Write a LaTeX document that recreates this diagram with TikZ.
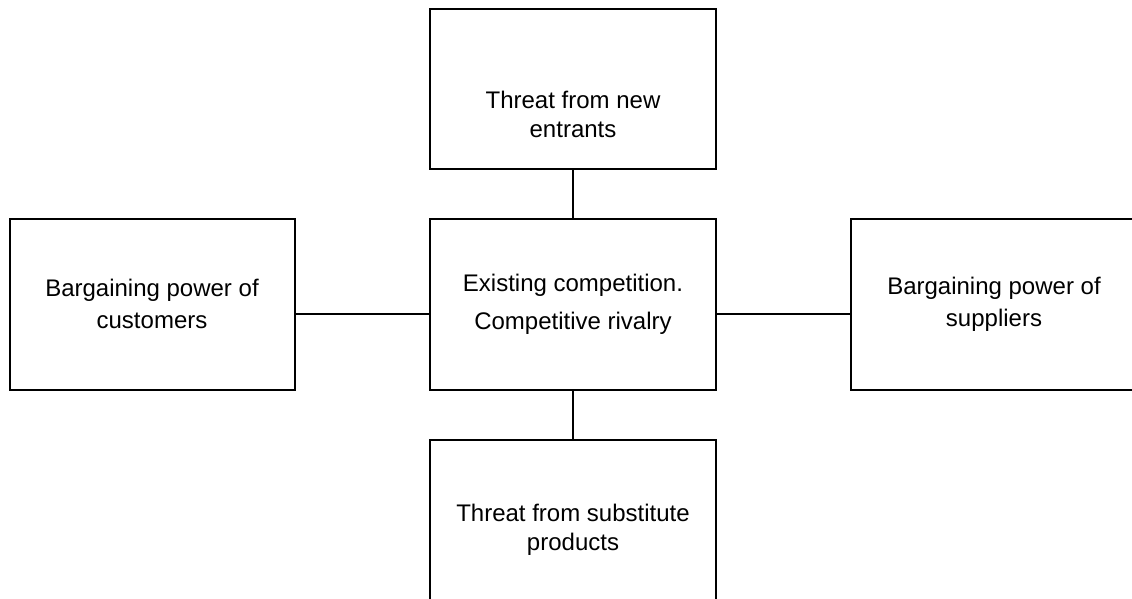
\documentclass[tikz,border=0pt]{standalone}
\usepackage{fontspec}
\setmainfont{Liberation Sans}
\begin{document}
\begin{tikzpicture}[x=1pt,y=-1pt,
  forcebox/.style={draw=black,line width=2pt,inner sep=0pt},
  forcetext/.style={align=center,inner sep=0pt,font=\fontsize{24}{29}\selectfont},
  sidetext/.style={forcetext,font=\fontsize{24}{32}\selectfont},
  link/.style={draw=black,line width=2pt}]
\useasboundingbox (0,0) rectangle (1132,599);
% the five force boxes (right and bottom run past the page edge)
\node[forcebox,minimum width=286pt,minimum height=160pt] (top) at (573,89) {};
\node[forcebox,minimum width=286pt,minimum height=171pt] (centre) at (573,304.5) {};
\node[forcebox,minimum width=285pt,minimum height=171pt] (left) at (152,304.5) {};
\node[forcebox,minimum width=286pt,minimum height=171pt] (right) at (994,304.5) {};
\node[forcebox,minimum width=286pt,minimum height=180pt] (bottom) at (573,530) {};
% labels
\node[forcetext] (ttop) at (573,114) {Threat from new\\entrants};
\node[forcetext,font=\fontsize{24}{38}\selectfont] (tcentre) at (573,304) {Existing competition.\\Competitive rivalry};
\node[sidetext] (tleft) at (152,304) {Bargaining power of\\customers};
\node[sidetext] (tright) at (994,304) {Bargaining power of\\suppliers};
\node[forcetext] (tbottom) at (573,530) {Threat from substitute\\products};
% connectors
\coordinate (hy) at (0,314);
\draw[link] (top.south) -- (centre.north);
\draw[link] (centre.south) -- (bottom.north);
\draw[link] (left.east |- hy) -- (centre.west |- hy);
\draw[link] (centre.east |- hy) -- (right.west |- hy);
\end{tikzpicture}
\end{document}
